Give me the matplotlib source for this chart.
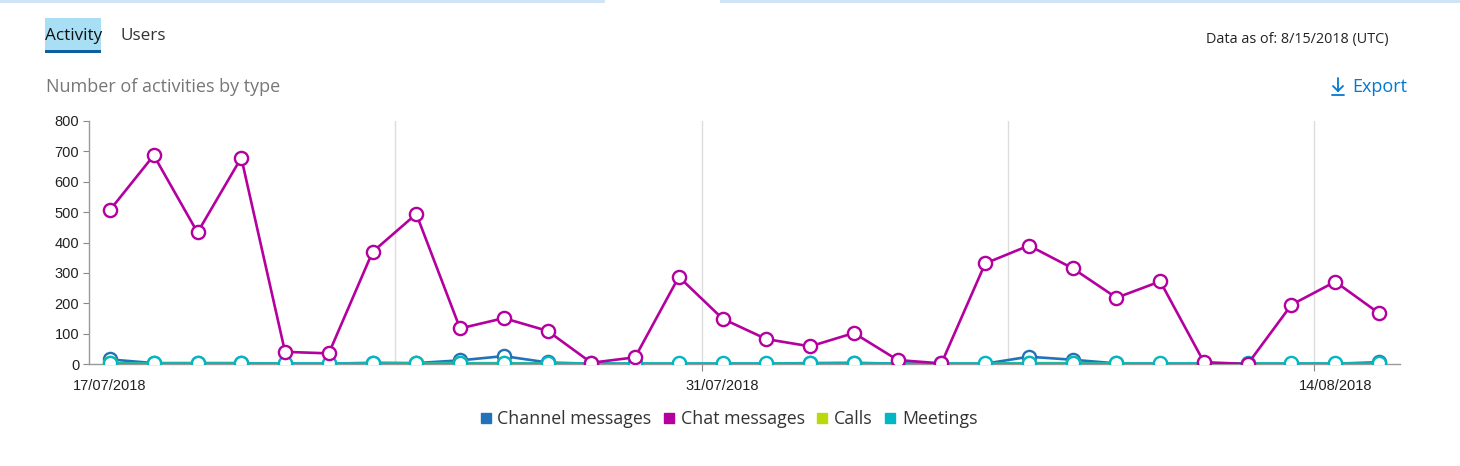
import matplotlib
matplotlib.use("Agg")
import matplotlib.pyplot as plt
from matplotlib.lines import Line2D
from matplotlib.patches import Rectangle

days = ["17/07", "18/07", "19/07", "20/07", "21/07", "22/07", "23/07", "24/07",
        "25/07", "26/07", "27/07", "28/07", "29/07", "30/07", "31/07", "01/08",
        "02/08", "03/08", "04/08", "05/08", "06/08", "07/08", "08/08", "09/08",
        "10/08", "11/08", "12/08", "13/08", "14/08", "15/08"]
chat = [507, 687, 433, 679, 40, 35, 369, 494, 117, 151, 109, 4, 22, 287, 149,
        82, 58, 102, 13, 2, 331, 390, 315, 218, 272, 6, 0, 195, 271, 167]
channel = [15, 3, 3, 3, 1, 1, 4, 3, 12, 26, 5, 1, 0, 0, 1,
           1, 3, 4, 1, 1, 1, 24, 14, 2, 1, 1, 1, 1, 1, 6]
calls = [3, 1, 1, 1, 0, 0, 1, 2, 3, 3, 1, 0, 0, 0, 0,
         0, 0, 0, 0, 0, 1, 3, 3, 1, 0, 0, 0, 0, 0, 0]
meetings = [2, 2, 2, 2, 2, 2, 2, 2, 2, 2, 2, 2, 2, 2, 2,
            2, 2, 2, 2, 2, 2, 2, 2, 2, 2, 2, 2, 2, 2, 2]
tick_labels = ["17/07/2018", "31/07/2018", "14/08/2018"]
tick_idx = [0, 14, 28]
y_ticks = [0, 100, 200, 300, 400, 500, 600, 700, 800]

C_CHANNEL = "#2272b9"
C_CHAT = "#b4009e"
C_CALLS = "#bad80a"
C_MEET = "#00b7c3"
UI = ["Open Sans", "DejaVu Sans"]
W, H = 1460, 466

fig = plt.figure(figsize=(14.6, 4.66), dpi=100)
ax = fig.add_axes([89 / W, 1 - 364 / H, (1400 - 89) / W, 243 / H])

x = list(range(len(days)))
mk = dict(marker="o", markersize=9.5, markerfacecolor="white", markeredgewidth=1.7, lw=1.9)
ax.plot(x, channel, color=C_CHANNEL, zorder=3, **mk)
ax.plot(x, calls, color=C_CALLS, zorder=4, **mk)
ax.plot(x, meetings, color=C_MEET, zorder=5, **mk)
ax.plot(x, chat, color=C_CHAT, zorder=6, **mk)

ax.set_xlim(-0.48, 29.48)
ax.set_ylim(0, 800)
ax.set_yticks(y_ticks)
ax.tick_params(axis="y", labelsize=10.5, length=4, color="#888888", labelcolor="#222222", pad=3)
for t in ax.get_yticklabels():
    t.set_family(["Liberation Sans", "DejaVu Sans"])

# graduations : lignes verticales entre deux jours, étiquettes sous les points
grid_x = [6.52, 13.52, 20.52, 27.52]
for g in grid_x:
    ax.axvline(g, color="#dddddd", lw=1, zorder=1)
ax.set_xticks([13.52, 27.52])
ax.set_xticklabels([])
ax.tick_params(axis="x", which="major", length=5, color="#888888")
ax.set_xticks(tick_idx, minor=True)
ax.set_xticklabels(tick_labels, minor=True, fontsize=10.5, color="#222222",
                   family=["Liberation Sans", "DejaVu Sans"])
ax.tick_params(axis="x", which="minor", length=0, pad=11)

for s in ["top", "right"]:
    ax.spines[s].set_visible(False)
for s in ["left", "bottom"]:
    ax.spines[s].set_color("#999999")
    ax.spines[s].set_linewidth(1)

# légende en carrés sous le graphique
handles = [Line2D([], [], marker="s", ls="", color=c, markersize=7)
           for c in [C_CHANNEL, C_CHAT, C_CALLS, C_MEET]]
fig.legend(handles, ["Channel messages", "Chat messages", "Calls", "Meetings"],
           loc="center", bbox_to_anchor=(727 / W, 1 - 419 / H), ncol=4,
           frameon=False, handletextpad=0.15, columnspacing=0.5, handlelength=1.0,
           prop={"family": UI, "size": 12.8}, labelcolor="#333333")

# bandeau et en-tête de la page
def rect(x0, y0, w, h, color):
    fig.add_artist(Rectangle((x0 / W, 1 - (y0 + h) / H), w / W, h / H,
                             transform=fig.transFigure, color=color, lw=0))

def seg(xs, ys, color, lw=1.3):
    fig.add_artist(Line2D([v / W for v in xs], [1 - v / H for v in ys],
                          transform=fig.transFigure, color=color, lw=lw,
                          solid_capstyle="round", solid_joinstyle="miter"))

rect(0, 0, 605, 3, "#cfe5f6")
rect(720, 0, 740, 3, "#cfe5f6")
rect(45, 18, 56, 32, "#a9dff5")
rect(45, 50, 56, 3, "#0f5f9e")
fig.text(45 / W, 1 - 36 / H, "Activity", fontsize=12.3, color="#111111", va="center", family=UI)
fig.text(120 / W, 1 - 36 / H, "Users", fontsize=12.3, color="#333333", va="center", family=UI)
fig.text(1388 / W, 1 - 39 / H, "Data as of: 8/15/2018 (UTC)", fontsize=10.4, color="#222222",
         ha="right", va="center", family=UI)
fig.text(46 / W, 1 - 87 / H, "Number of activities by type", fontsize=13, color="#777777",
         va="center", family=UI)
fig.text(1407 / W, 1 - 87 / H, "Export", fontsize=13, color="#0078d4",
         ha="right", va="center", family=UI)
# icône de téléchargement dessinée à la main
C_LINK = "#0078d4"
seg([1338, 1338], [78, 91], C_LINK)
seg([1333, 1338, 1343], [86, 91, 86], C_LINK)
seg([1332, 1344], [95, 95], C_LINK)

fig.savefig("out.png", dpi=100, facecolor="white")
